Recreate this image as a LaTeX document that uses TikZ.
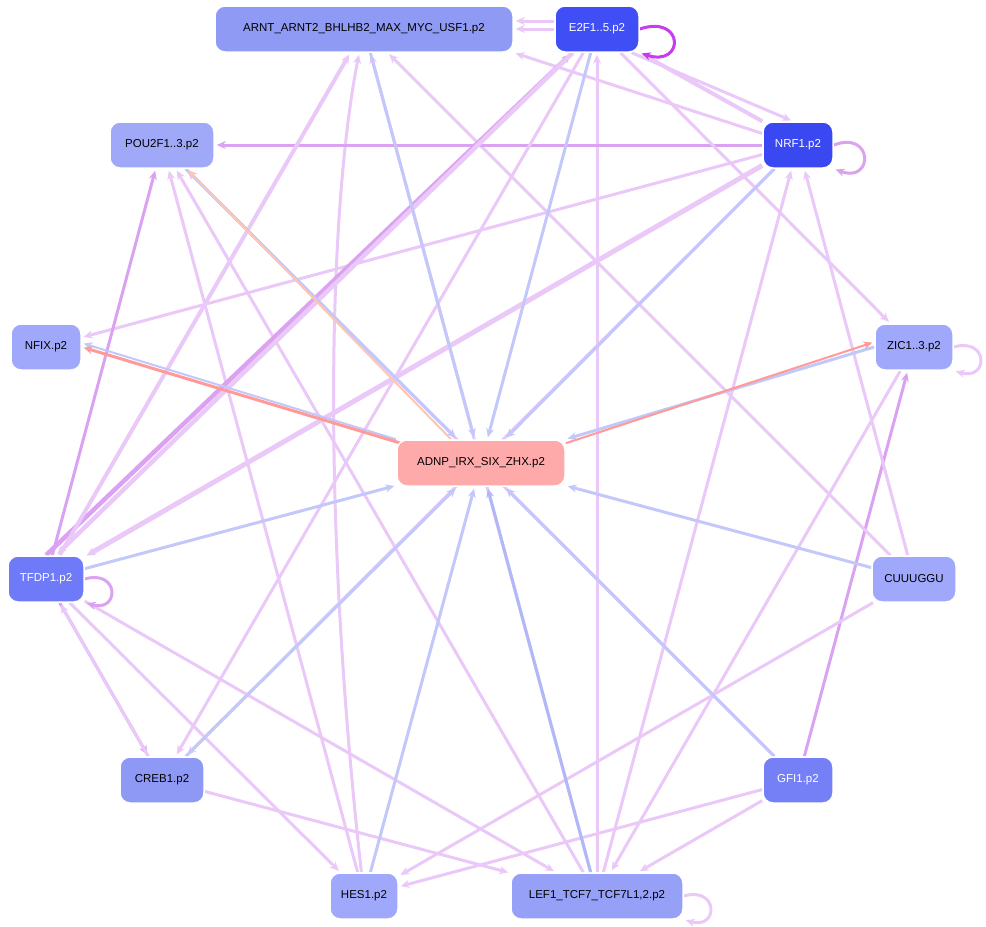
\documentclass[tikz,border=0pt]{standalone}
\usepackage{fontspec}
\setmainfont{Liberation Sans}
\usetikzlibrary{arrows.meta,backgrounds}
\definecolor{eb}{HTML}{C2C8FA}
\definecolor{ep}{HTML}{EAC8F8}
\definecolor{eq}{HTML}{DCA2F2}
\definecolor{es}{HTML}{FF9A96}
\definecolor{eo}{HTML}{FFC4B4}
\definecolor{el}{HTML}{C83CF0}
\definecolor{eB}{HTML}{B0B8F8}
\begin{document}
\begin{tikzpicture}[x=1pt,y=-1pt,
 n/.style={draw=white,line width=1.5pt,rounded corners=10pt,minimum height=46,font=\fontsize{11.5}{13}\selectfont,inner sep=2pt},
 e/.style={-{Stealth[length=9pt,width=8pt]},line width=3pt,shorten >=2pt},
 b/.style={e,eb}, p/.style={e,ep}, q/.style={e,eq}, s/.style={e,es}]
\path[use as bounding box] (0,0) rectangle (986,927);
\node[n,fill={rgb,255:red,143;green,154;blue,245},minimum width=298] (arnt) at (364,29) {ARNT\_ARNT2\_BHLHB2\_MAX\_MYC\_USF1.p2};
\node[n,fill={rgb,255:red,63;green,78;blue,245},text=white,minimum width=84] (e2f) at (597,29) {E2F1..5.p2};
\node[n,fill={rgb,255:red,160;green,168;blue,248},minimum width=104] (pou) at (162,145) {POU2F1..3.p2};
\node[n,fill={rgb,255:red,58;green,72;blue,242},text=white,minimum width=70] (nrf) at (798,145) {NRF1.p2};
\node[n,fill={rgb,255:red,160;green,168;blue,251},minimum width=70] (nfix) at (46,347) {NFIX.p2};
\node[n,fill={rgb,255:red,160;green,168;blue,251},minimum width=78] (zic) at (914,347) {ZIC1..3.p2};
\node[n,fill={rgb,255:red,255;green,170;blue,170},minimum width=168] (adnp) at (481,463) {ADNP\_IRX\_SIX\_ZHX.p2};
\node[n,fill={rgb,255:red,111;green,122;blue,248},text=white,minimum width=76] (tfdp) at (46,579) {TFDP1.p2};
\node[n,fill={rgb,255:red,160;green,168;blue,251},minimum width=84] (cuu) at (914,579) {CUUUGGU};
\node[n,fill={rgb,255:red,142;green,152;blue,245},minimum width=84] (creb) at (162,780) {CREB1.p2};
\node[n,fill={rgb,255:red,117;green,128;blue,247},text=white,minimum width=70] (gfi) at (798,780) {GFI1.p2};
\node[n,fill={rgb,255:red,160;green,168;blue,251},minimum width=68] (hes) at (364,896) {HES1.p2};
\node[n,fill={rgb,255:red,150;green,160;blue,246},minimum width=172] (lef) at (597,896) {LEF1\_TCF7\_TCF7L1,2.p2};
\begin{scope}[on background layer]
% others (pink, drawn first)
\draw[p] (hes) .. controls (320,500) and (330,200) .. (arnt);
\draw[p] (hes) -- (pou);
\draw[p] (creb) -- (lef);
\draw[p] (lef) -- (pou);
\draw[p] (lef) -- (e2f);
\draw[p] (lef) -- (arnt);
\draw[p] (lef) -- (nrf);
\draw[p] (gfi) -- (lef);
\draw[p] (gfi) -- (hes);
\draw[q] (gfi) -- (zic);
\draw[p] (gfi) -- (pou);
\draw[p] (cuu) -- (hes);
\draw[p] (cuu) -- (nrf);
\draw[p] (cuu) -- (arnt);
\draw[p] (zic) -- (lef);
\draw[p] (zic.east) .. controls +(35,-10) and +(35,10) .. (zic.south east);
\draw[p] (lef.east) .. controls +(35,-10) and +(35,10) .. (lef.south east);
% NRF1 out
\draw[q] (nrf) -- (pou);
\draw[p] (nrf) -- (nfix);
\draw[p,line width=5pt] (nrf) -- (tfdp);
\draw[p] (nrf) -- (arnt.south east);
\draw[p] (nrf) -- (creb);
\draw[p,line width=4pt] (nrf.north west) -- (e2f.south east);
\draw[p] ([xshift=-8]e2f.south east) -- ([xshift=-5]nrf.north);
\draw[q] (nrf.east) .. controls +(40,-15) and +(40,15) .. (nrf.south east);
% E2F
\draw[e,el] (e2f.east) .. controls +(45,-15) and +(45,15) .. (e2f.south east);
\draw[p] (e2f.west) -- (arnt.east);
\draw[p] ([yshift=8]e2f.west) -- ([yshift=8]arnt.east);
\draw[q,line width=4.5pt] (tfdp.north) -- (e2f);
\draw[p,line width=4.5pt] (e2f) -- ([xshift=10]tfdp.north);
\draw[p] (e2f) -- (zic);
\draw[p] (e2f) -- (creb);
% TFDP1
\draw[p,line width=4pt] (tfdp) -- (arnt);
\draw[q] (tfdp) -- (pou);
\draw[q] (tfdp) -- (creb);
\draw[p] (creb) -- (tfdp);
\draw[p] (tfdp) -- (hes);
\draw[p] (tfdp) -- (lef);
\draw[q] (tfdp.east) .. controls +(35,-10) and +(35,10) .. (tfdp.south east);
% into ADNP
\draw[b] (arnt) -- (adnp);
\draw[b] (e2f) -- (adnp);
\draw[b] (nrf) -- (adnp);
\draw[b] (zic.west) -- (adnp.north east);
\draw[e,es,line width=2pt] ([yshift=-4]adnp.north east) -- ([yshift=5]zic.west);
\draw[b] (cuu) -- (adnp);
\draw[b] (gfi) -- (adnp);
\draw[b,eB] (lef) -- (adnp);
\draw[b] (hes) -- (adnp);
\draw[b] (creb) -- (adnp);
\draw[b] (tfdp) -- (adnp);
\draw[b] (pou) -- (adnp);
\draw[e,eo,line width=2pt] ([xshift=-30]adnp.north) -- ([xshift=25]pou.south);
\draw[e,eb,line width=2pt] ([xshift=-85]adnp.north) -- ([yshift=4]nfix.east);
\draw[s] ([xshift=-80,yshift=-4]adnp.north) -- (nfix.east);
\end{scope}
\end{tikzpicture}
\end{document}
